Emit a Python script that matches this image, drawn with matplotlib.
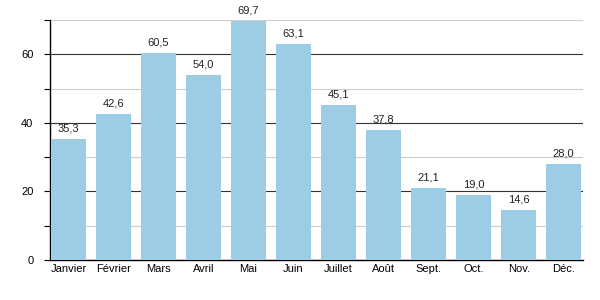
import matplotlib.pyplot as plt
from matplotlib.ticker import MultipleLocator

plt.rcParams['font.family'] = ['Liberation Sans', 'DejaVu Sans']

mois = ['Janvier', 'Février', 'Mars', 'Avril', 'Mai', 'Juin', 'Juillet',
        'Août', 'Sept.', 'Oct.', 'Nov.', 'Déc.']
valeurs = [35.3, 42.6, 60.5, 54.0, 69.7, 63.1, 45.1, 37.8, 21.1, 19.0, 14.6, 28.0]

fig = plt.figure(figsize=(6, 3), dpi=100)
ax = fig.add_axes([50 / 600, 40 / 300, 533 / 600, 240 / 300])

x = range(len(mois))
bars = ax.bar(x, valeurs, width=0.78, color='#9dcde5', zorder=3)

for b, v in zip(bars, valeurs):
    ax.text(b.get_x() + b.get_width() / 2, v + 1.6, f'{v:.1f}'.replace('.', ','),
            ha='center', va='bottom', fontsize=8, color='#222222')

ax.set_xlim(-0.41, len(mois) - 0.57)
ax.set_ylim(0, 70)
ax.yaxis.set_major_locator(MultipleLocator(20))
ax.yaxis.set_minor_locator(MultipleLocator(10))
ax.grid(axis='y', which='major', color='#333333', linewidth=0.8, zorder=1)
ax.grid(axis='y', which='minor', color='#cccccc', linewidth=0.8, zorder=1)

ax.set_xticks(list(x))
ax.set_xticklabels(mois, fontsize=8)
ax.tick_params(axis='x', length=0, pad=3)
ax.tick_params(axis='y', which='both', labelsize=8, length=4, width=0.8, pad=8)

for s in ['top', 'right']:
    ax.spines[s].set_visible(False)
ax.spines['left'].set_linewidth(1.0)
ax.spines['bottom'].set_linewidth(1.0)

fig.savefig('out.png', dpi=100)
